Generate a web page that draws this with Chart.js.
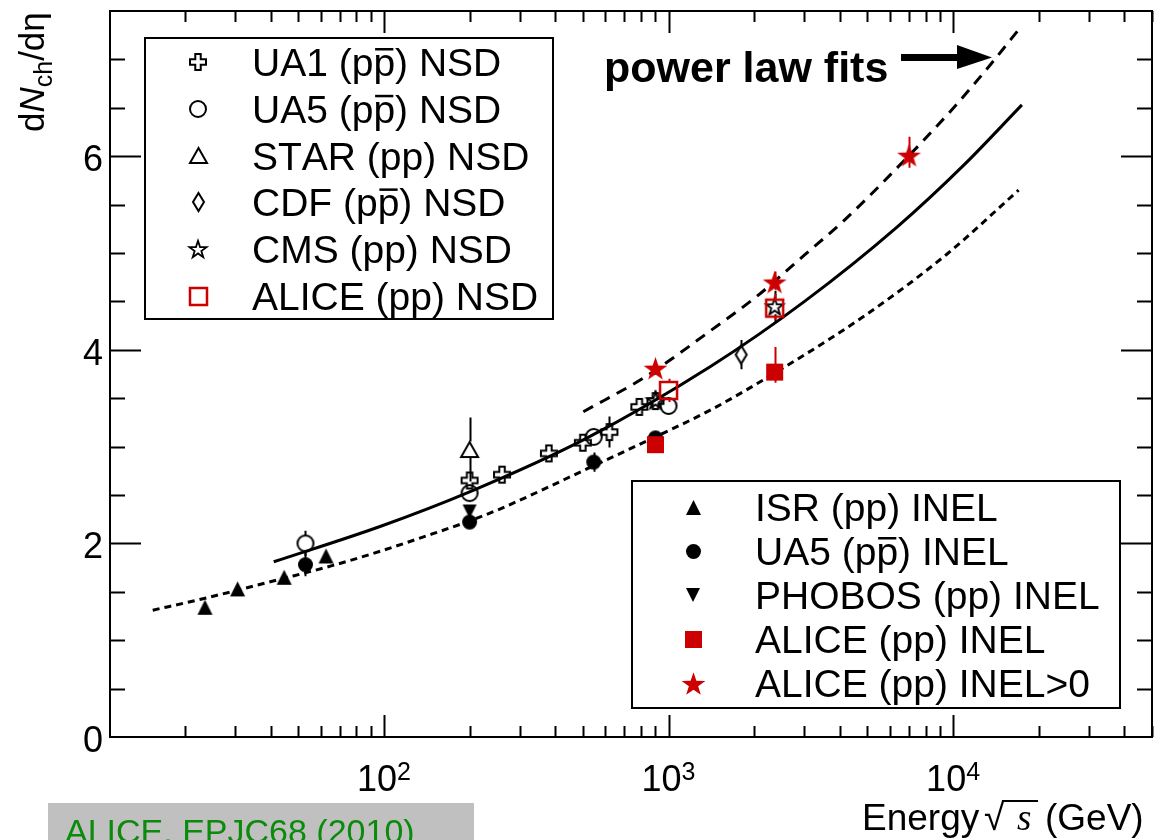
<!DOCTYPE html>
<html lang="en">
<head>
<meta charset="UTF-8">
<title>dNch/deta vs energy</title>
<script src="https://cdn.jsdelivr.net/npm/chart.js"></script>
<style>
  html, body { margin: 0; padding: 0; background: #fff; overflow: hidden; }
  #wrap { position: relative; width: 1158px; height: 840px; }
</style>
</head>
<body>
<div id="wrap"><canvas id="chart" width="1158" height="840"></canvas></div>
<script>
  // values (energy in GeV, dNch/deta)
  const ua1NsdE = [200, 260, 380, 500, 620, 790, 900];
  const ua1NsdY = [2.65, 2.71, 2.93, 3.04, 3.15, 3.41, 3.47];
  const ua1NsdErr = [0, 0, 0, 0, 0.16, 0, 0];

  const ua5NsdE = [53, 200, 546, 1000];
  const ua5NsdY = [2.00, 2.52, 3.10, 3.42];
  const ua5NsdErr = [0.13, 0, 0, 0];

  const starNsdE = [200];
  const starNsdY = [2.97];
  const starNsdErr = [0.33];

  const cdfNsdE = [1800];
  const cdfNsdY = [3.95];
  const cdfNsdErr = [0.15];

  const cmsNsdE = [900, 2360];
  const cmsNsdY = [3.48, 4.45];
  const cmsNsdErr = [0.1, 0.16];

  const aliceNsdE = [1000, 2360];
  const aliceNsdY = [3.58, 4.43];
  const aliceNsdUp = [0.12, 0.15];
  const aliceNsdDown = [0.12, 0.12];

  const isrInelE = [23.5, 30.6, 44.6, 62.6];
  const isrInelY = [1.34, 1.53, 1.65, 1.87];

  const ua5InelE = [53, 200, 546, 900];
  const ua5InelY = [1.78, 2.22, 2.84, 3.09];
  const ua5InelErr = [0.12, 0, 0.1, 0];

  const phobosInelE = [200];
  const phobosInelY = [2.33];

  const aliceInelE = [900, 2360];
  const aliceInelY = [3.02, 3.77];
  const aliceInelUp = [0.08, 0.26];
  const aliceInelDown = [0.05, 0.11];

  const aliceGt0E = [900, 2360, 7000];
  const aliceGt0Y = [3.81, 4.70, 6.01];
  const aliceGt0Up = [0.07, 0.11, 0.19];
  const aliceGt0Down = [0.07, 0.08, 0.13];

  // power law fit curves, sampled along the drawn lines
  const fitNsdE = [41, 98, 199, 510, 1409, 3007, 6367, 10926, 17450];
  const fitNsdY = [1.81, 2.18, 2.53, 3.08, 3.83, 4.50, 5.27, 5.91, 6.53];

  const fitGt0E = [502, 828, 1409, 2058, 3007, 4152, 6216, 9761, 13477, 17450];
  const fitGt0Y = [3.36, 3.72, 4.20, 4.56, 4.98, 5.34, 5.85, 6.46, 6.94, 7.35];

  const fitInelE = [15.4, 22.5, 44.6, 65.7, 98.4, 147, 199, 253, 535, 869, 1409, 2361, 4879, 9527, 17000];
  const fitInelY = [1.31, 1.42, 1.64, 1.77, 1.925, 2.095, 2.23, 2.35, 2.79, 3.08, 3.38, 3.76, 4.35, 4.99, 5.65];

  // axis ticks
  const xMajorTicks = [100, 1000, 10000];
  const xTickExp = ['2', '3', '4'];
  const yMajorTicks = [0, 2, 4, 6];
  const yTickLabels = ['0', '2', '4', '6'];

  const RED = '#cc0000';
  const FONT = '"Liberation Sans", Arial, sans-serif';

  function pts(xs, ys) {
    return xs.map((x, i) => ({ x: x, y: ys[i] }));
  }

  // small canvases used as point styles
  function marker(shape, w, h, color, filled, lw) {
    const pad = 3;
    const c = document.createElement('canvas');
    c.width = Math.round(w + 2 * pad);
    c.height = Math.round(h + 2 * pad);
    const g = c.getContext('2d');
    const cx = c.width / 2, cy = c.height / 2;
    g.beginPath();
    if (shape === 'circle') {
      g.arc(cx, cy, w / 2, 0, Math.PI * 2);
    } else if (shape === 'square') {
      g.rect(cx - w / 2, cy - h / 2, w, h);
    } else if (shape === 'tri') {
      g.moveTo(cx, cy - h / 2); g.lineTo(cx + w / 2, cy + h / 2); g.lineTo(cx - w / 2, cy + h / 2); g.closePath();
    } else if (shape === 'tridown') {
      g.moveTo(cx, cy + h / 2); g.lineTo(cx + w / 2, cy - h / 2); g.lineTo(cx - w / 2, cy - h / 2); g.closePath();
    } else if (shape === 'diamond') {
      g.moveTo(cx, cy - h / 2); g.lineTo(cx + w / 2, cy); g.lineTo(cx, cy + h / 2); g.lineTo(cx - w / 2, cy); g.closePath();
    } else if (shape === 'plus') {
      const a = w * 0.17, b = w / 2;
      const p = [[-a, -b], [a, -b], [a, -a], [b, -a], [b, a], [a, a], [a, b], [-a, b], [-a, a], [-b, a], [-b, -a], [-a, -a]];
      p.forEach((q, i) => i ? g.lineTo(cx + q[0], cy + q[1]) : g.moveTo(cx + q[0], cy + q[1]));
      g.closePath();
    } else if (shape === 'star') {
      for (let i = 0; i < 10; i++) {
        const r = i % 2 ? w / 2 * 0.39 : w / 2;
        const ang = -Math.PI / 2 + i * Math.PI / 5;
        const px = cx + r * Math.cos(ang), py = cy + 0.05 * w + r * Math.sin(ang);
        i ? g.lineTo(px, py) : g.moveTo(px, py);
      }
      g.closePath();
    }
    if (filled) {
      g.fillStyle = color;
      g.fill();
    } else {
      g.lineWidth = lw;
      g.strokeStyle = color;
      g.stroke();
    }
    return c;
  }

  const mUa1 = marker('plus', 16, 16, '#000', false, 2);
  const mUa5 = marker('circle', 16, 16, '#000', false, 2);
  const mStar = marker('tri', 17, 15, '#000', false, 2);
  const mCdf = marker('diamond', 11, 18, '#000', false, 2);
  const mCms = marker('star', 18, 18, '#000', false, 1.8);
  const mAliceNsd = marker('square', 17, 17, RED, false, 2.5);
  const mIsr = marker('tri', 15, 15, '#000', true);
  const mUa5Inel = marker('circle', 15, 15, '#000', true);
  const mPhobos = marker('tridown', 14, 14, '#000', true);
  const mAliceInel = marker('square', 17, 17, RED, true);
  const mAliceGt0 = marker('star', 25, 25, RED, true);

  function pointSet(label, data, style, order, group, extra) {
    return Object.assign({
      label: label, data: data, pointStyle: style, pointRadius: 5,
      showLine: false, order: order, legendGroup: group,
      errColor: '#000', gap: 0
    }, extra || {});
  }

  function curve(label, data, dash) {
    return {
      label: label, data: data, showLine: true, pointRadius: 0,
      borderColor: '#000', borderWidth: 3, borderDash: dash,
      cubicInterpolationMode: 'monotone', fill: false, order: 20
    };
  }

  const datasets = [
    curve('fit NSD', pts(fitNsdE, fitNsdY), []),
    curve('fit INEL>0', pts(fitGt0E, fitGt0Y), [11, 8]),
    curve('fit INEL', pts(fitInelE, fitInelY), [7, 5]),
    pointSet('UA1 (pp\u0304) NSD', pts(ua1NsdE, ua1NsdY), mUa1, 6, 'top', { errUp: ua1NsdErr, errDown: ua1NsdErr, gap: 8 }),
    pointSet('UA5 (pp\u0304) NSD', pts(ua5NsdE, ua5NsdY), mUa5, 7, 'top', { errUp: ua5NsdErr, errDown: ua5NsdErr, gap: 8 }),
    pointSet('STAR (pp) NSD', pts(starNsdE, starNsdY), mStar, 6, 'top', { errUp: starNsdErr, errDown: starNsdErr, gap: 8 }),
    pointSet('CDF (pp\u0304) NSD', pts(cdfNsdE, cdfNsdY), mCdf, 6, 'top', { errUp: cdfNsdErr, errDown: cdfNsdErr, gap: 9 }),
    pointSet('CMS (pp) NSD', pts(cmsNsdE, cmsNsdY), mCms, 5, 'top', { errUp: cmsNsdErr, errDown: cmsNsdErr, gap: 8 }),
    pointSet('ALICE (pp) NSD', pts(aliceNsdE, aliceNsdY), mAliceNsd, 2, 'top', { errUp: aliceNsdUp, errDown: aliceNsdDown, gap: 9, errColor: RED }),
    pointSet('ISR (pp) INEL', pts(isrInelE, isrInelY), mIsr, 8, 'bottom'),
    pointSet('UA5 (pp\u0304) INEL', pts(ua5InelE, ua5InelY), mUa5Inel, 8, 'bottom', { errUp: ua5InelErr, errDown: ua5InelErr }),
    pointSet('PHOBOS (pp) INEL', pts(phobosInelE, phobosInelY), mPhobos, 8, 'bottom'),
    pointSet('ALICE (pp) INEL', pts(aliceInelE, aliceInelY), mAliceInel, 1, 'bottom', { errUp: aliceInelUp, errDown: aliceInelDown, errColor: RED }),
    pointSet('ALICE (pp) INEL>0', pts(aliceGt0E, aliceGt0Y), mAliceGt0, 1, 'bottom', { errUp: aliceGt0Up, errDown: aliceGt0Down, errColor: RED })
  ];

  // text with combining macron drawn as an overline on the previous letter
  function drawLabel(ctx, text, x, y, overY) {
    let cx = x;
    for (let i = 0; i < text.length; i++) {
      const ch = text[i];
      if (ch === '\u0304') continue;
      const w = ctx.measureText(ch).width;
      ctx.fillText(ch, cx, y);
      if (text[i + 1] === '\u0304') {
        ctx.fillRect(cx + w * 0.08, y - overY, w * 0.84, 2.5);
      }
      cx += w;
    }
  }

  function drawLegend(ctx, chart, group, box, mx, tx, y0, dy) {
    ctx.save();
    ctx.fillStyle = '#fff';
    ctx.fillRect(box[0], box[1], box[2] - box[0], box[3] - box[1]);
    ctx.strokeStyle = '#000';
    ctx.lineWidth = 2;
    ctx.strokeRect(box[0], box[1], box[2] - box[0], box[3] - box[1]);
    ctx.font = '39px ' + FONT;
    ctx.fillStyle = '#000';
    ctx.textBaseline = 'alphabetic';
    let row = 0;
    chart.data.datasets.forEach(ds => {
      if (ds.legendGroup !== group) return;
      const y = y0 + row * dy;
      const m = ds.pointStyle;
      ctx.drawImage(m, Math.round(mx - m.width / 2), Math.round(y - m.height / 2));
      drawLabel(ctx, ds.label, tx, y + 14, 28);
      row++;
    });
    ctx.restore();
  }

  const decor = {
    id: 'decor',
    beforeDatasetDraw(chart, args) {
      const ds = chart.data.datasets[args.index];
      if (!ds.errUp) return;
      const ctx = chart.ctx;
      const xs = chart.scales.x, ys = chart.scales.y;
      ctx.save();
      ctx.strokeStyle = ds.errColor;
      ctx.lineWidth = 2;
      ds.data.forEach((p, i) => {
        const px = Math.round(xs.getPixelForValue(p.x)) + 0.5;
        const py = ys.getPixelForValue(p.y);
        const top = ys.getPixelForValue(p.y + (ds.errUp[i] || 0));
        const bot = ys.getPixelForValue(p.y - (ds.errDown[i] || 0));
        ctx.beginPath();
        if (py - ds.gap > top) { ctx.moveTo(px, py - ds.gap); ctx.lineTo(px, top); }
        if (py + ds.gap < bot) { ctx.moveTo(px, py + ds.gap); ctx.lineTo(px, bot); }
        ctx.stroke();
      });
      ctx.restore();
    },
    afterDraw(chart) {
      const ctx = chart.ctx;
      const a = chart.chartArea;
      const xs = chart.scales.x, ys = chart.scales.y;
      ctx.save();
      ctx.strokeStyle = '#000';
      ctx.fillStyle = '#000';
      ctx.lineWidth = 2;
      ctx.strokeRect(a.left, a.top, a.right - a.left, a.bottom - a.top);

      // inward ticks on all four sides
      ctx.beginPath();
      for (let d = 10; d <= 10000; d *= 10) {
        for (let k = 1; k <= 9; k++) {
          const v = d * k;
          if (v < xs.min || v > xs.max) continue;
          const px = Math.round(xs.getPixelForValue(v)) + 0.5;
          const len = k === 1 ? 22 : 11;
          ctx.moveTo(px, a.bottom); ctx.lineTo(px, a.bottom - len);
          ctx.moveTo(px, a.top); ctx.lineTo(px, a.top + len);
        }
      }
      for (let v = 0.5; v < ys.max; v += 0.5) {
        const py = Math.round(ys.getPixelForValue(v)) + 0.5;
        const len = yMajorTicks.includes(v) ? 31 : 15;
        ctx.moveTo(a.left, py); ctx.lineTo(a.left + len, py);
        ctx.moveTo(a.right, py); ctx.lineTo(a.right - len, py);
      }
      ctx.stroke();

      // tick labels
      ctx.textBaseline = 'alphabetic';
      ctx.textAlign = 'right';
      ctx.font = '36px ' + FONT;
      yMajorTicks.forEach((v, i) => {
        ctx.fillText(yTickLabels[i], 103, ys.getPixelForValue(v) + 15);
      });
      ctx.textAlign = 'left';
      xMajorTicks.forEach((v, i) => {
        const px = xs.getPixelForValue(v);
        ctx.font = '36px ' + FONT;
        const wb = ctx.measureText('10').width;
        ctx.font = '25px ' + FONT;
        const we = ctx.measureText(xTickExp[i]).width;
        const x0 = px - (wb + we) / 2;
        ctx.font = '36px ' + FONT;
        ctx.fillText('10', x0, 791);
        ctx.font = '25px ' + FONT;
        ctx.fillText(xTickExp[i], x0 + wb, 780);
      });

      // x axis title
      ctx.font = '37px ' + FONT;
      ctx.fillText('Energy', 862, 830);
      ctx.fillText('\u221A', 984, 830);
      ctx.font = 'italic 37px "Liberation Serif", serif';
      ctx.fillText('s', 1017, 830);
      ctx.fillRect(1002, 800, 36, 2);
      ctx.font = '37px ' + FONT;
      ctx.fillText('(GeV)', 1045, 830);

      // y axis title, rotated
      ctx.save();
      ctx.translate(44, 132);
      ctx.rotate(-Math.PI / 2);
      let tx = 0;
      [['d', '35px ' + FONT, 0], ['N', 'italic 35px ' + FONT, 0], ['ch', '25px ' + FONT, 8],
       ['/', '35px ' + FONT, 0], ['d\u03B7', '35px ' + FONT, 0]].forEach(p => {
        ctx.font = p[1];
        ctx.fillText(p[0], tx, p[2]);
        tx += ctx.measureText(p[0]).width;
      });
      ctx.restore();

      // annotation
      ctx.font = 'bold 43px ' + FONT;
      ctx.fillText('power law fits', 604, 82);
      ctx.fillRect(901, 54, 58, 7);
      ctx.beginPath();
      ctx.moveTo(957, 45); ctx.lineTo(992, 57.5); ctx.lineTo(957, 69); ctx.closePath();
      ctx.fill();

      // legends
      drawLegend(ctx, chart, 'top', [145, 38, 553, 319], 198, 252, 62, 46.8);
      drawLegend(ctx, chart, 'bottom', [632, 481, 1120, 708], 693, 755, 507, 44);

      // reference tag
      ctx.fillStyle = '#c0c0c0';
      ctx.fillRect(48, 803, 426, 40);
      ctx.fillStyle = '#0b8a0b';
      ctx.font = '34px ' + FONT;
      ctx.fillText('ALICE, EPJC68 (2010)', 65, 843);
      ctx.restore();
    }
  };

  new Chart(document.getElementById('chart'), {
    type: 'scatter',
    data: { datasets: datasets },
    options: {
      responsive: false,
      devicePixelRatio: 1,
      animation: false,
      events: [],
      layout: { padding: { left: 110, top: 11, right: 3, bottom: 103 } },
      plugins: { legend: { display: false }, tooltip: { enabled: false } },
      scales: {
        x: { type: 'logarithmic', min: 10.9, max: 50000, display: false },
        y: { type: 'linear', min: 0, max: 7.5, display: false }
      }
    },
    plugins: [decor]
  });
</script>
</body>
</html>
